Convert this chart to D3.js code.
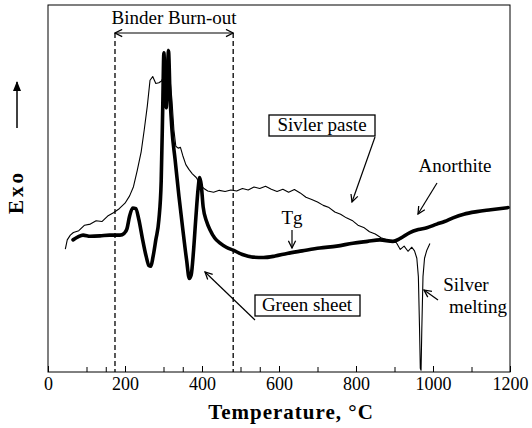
<!DOCTYPE html>
<html lang="en">
	<head>
		<meta charset="utf-8">
		<title>DTA: binder burn-out</title>
		<script type="text/javascript" src="https://cdn.jsdelivr.net/npm/d3@7"></script>
		<style type="text/css">
			body { margin: 0; background: #fff; }
			text { font-family: "Liberation Serif", "DejaVu Serif", serif; fill: #000; }
		</style>
	</head>
	<body>
		<script type="text/javascript">

			//Width and height
			var w = 532;
			var h = 428;
			var margin = {top: 5, right: 22, bottom: 56, left: 48};

			// silver paste (thin trace)
			var pasteT = [45, 50, 58, 66, 80, 95, 110, 125, 140, 155, 170, 185, 200, 212, 222, 232, 242, 250, 258, 265,
						  272, 280, 288, 295, 302, 308, 312, 316, 322, 327, 332, 338, 344, 350, 358, 366, 375, 385, 395, 405,
						  415, 430, 445, 460, 475, 490, 505, 520, 535, 550, 565, 580, 595, 610, 625, 640, 655, 670, 685, 700,
						  715, 730, 745, 760, 775, 790, 805, 820, 835, 850, 865, 880, 895, 905, 915, 925, 935, 945, 952, 958,
						  962, 965, 967, 969, 971, 974, 978, 984, 992];
			var pasteV = [33.5, 36.0, 37.3, 38.0, 38.5, 40.0, 40.3, 41.2, 41.0, 42.5, 43.4, 44.5, 46.0, 48.0, 50.5, 55.0, 60.0, 66.0, 72.5, 79.5,
						  80.5, 78.6, 78.8, 79.3, 81.0, 84.0, 88.0, 81.0, 74.0, 66.0, 61.5, 61.0, 61.2, 59.0, 56.5, 55.2, 54.0, 53.0, 51.2, 50.0,
						  49.3, 49.0, 49.5, 49.2, 49.6, 49.3, 50.0, 49.6, 50.4, 50.0, 50.6, 49.8, 49.2, 49.8, 49.0, 49.7, 48.8, 47.6, 47.0, 46.3,
						  45.4, 44.8, 43.6, 43.0, 42.0, 41.3, 40.0, 39.4, 38.2, 37.6, 36.6, 36.0, 35.6, 35.2, 33.4, 34.3, 32.9, 34.0, 33.0, 31.0,
						  26.0, 12.0, 1.0, 0.5, 12.0, 26.0, 31.0, 33.2, 35.0];

			// green sheet (thick trace)
			var sheetT = [65, 78, 91, 110, 135, 160, 187, 198, 205, 212, 220, 228, 236, 245, 255, 262, 267, 273, 280, 288,
						  294, 298, 301, 304, 307, 310, 313, 317, 322, 330, 340, 350, 360, 367, 372, 378, 384, 390, 394, 398,
						  403, 412, 421, 433, 447, 463, 481, 505, 532, 560, 590, 621, 660, 706, 750, 792, 830, 862, 896, 915,
						  940, 962, 984, 1010, 1030, 1052, 1080, 1114, 1150, 1195];
			var sheetV = [36.0, 36.8, 37.3, 37.0, 37.1, 37.3, 37.3, 37.8, 39.0, 42.5, 44.7, 44.5, 41.5, 36.5, 31.5, 29.0, 28.8, 31.5, 36.0, 41.5,
						  52.0, 72.0, 87.0, 78.0, 72.0, 80.0, 87.5, 75.0, 66.0, 58.0, 48.0, 39.0, 30.5, 25.5, 26.5, 33.0, 42.0, 50.0, 53.0, 51.0,
						  45.0, 41.0, 38.7, 36.5, 35.1, 34.0, 33.2, 32.0, 31.3, 31.2, 31.6, 32.3, 33.0, 33.8, 34.3, 35.1, 35.6, 36.0, 35.6, 36.4,
						  38.0, 38.8, 39.3, 40.3, 41.0, 42.0, 43.0, 43.7, 44.2, 44.8];

			var majorTicks = [0, 200, 400, 600, 800, 1000, 1200];
			var minorTicks = [100, 150, 300, 350, 500, 550, 700, 900, 1100];
			var burnout = [174, 481]; // dashed limits, deg C

			var pw = w - margin.left - margin.right;
			var ph = h - margin.top - margin.bottom;

			var xScale = d3.scaleLinear().domain([0, 1200]).range([0, pw]);
			var yScale = d3.scaleLinear().domain([0, 100]).range([ph, 0]);

			var svg = d3.select("body")
						.append("svg")
						.attr("width", w)
						.attr("height", h);

			// arrow heads
			var defs = svg.append("defs");
			defs.append("marker")
				.attr("id", "open")
				.attr("viewBox", "0 0 10 10")
				.attr("refX", 9).attr("refY", 5)
				.attr("markerWidth", 9).attr("markerHeight", 9)
				.attr("markerUnits", "userSpaceOnUse")
				.attr("orient", "auto-start-reverse")
				.append("path")
				.attr("d", "M1,1 L9,5 L1,9")
				.attr("fill", "none")
				.attr("stroke", "#000")
				.attr("stroke-width", 1.4);
			defs.append("marker")
				.attr("id", "solid")
				.attr("viewBox", "0 0 10 10")
				.attr("refX", 9).attr("refY", 5)
				.attr("markerWidth", 10).attr("markerHeight", 10)
				.attr("markerUnits", "userSpaceOnUse")
				.attr("orient", "auto")
				.append("path")
				.attr("d", "M0,1 L10,5 L0,9 Z")
				.attr("fill", "#000");

			var g = svg.append("g")
					   .attr("transform", "translate(" + margin.left + "," + margin.top + ")");

			// frame
			g.append("rect")
			 .attr("width", pw)
			 .attr("height", ph)
			 .attr("fill", "none")
			 .attr("stroke", "#000")
			 .attr("stroke-width", 1);

			// x axis (ticks point inward)
			var xAxis = g.append("g")
						 .attr("transform", "translate(0," + ph + ")")
						 .call(d3.axisBottom(xScale).tickValues(majorTicks).tickSize(-6).tickPadding(5).tickFormat(d3.format("d")));
			xAxis.select(".domain").remove();
			xAxis.selectAll("text")
				 .attr("font-size", "18px")
				 .attr("font-family", "Liberation Serif");
			var xMinor = g.append("g")
						  .attr("transform", "translate(0," + ph + ")")
						  .call(d3.axisBottom(xScale).tickValues(minorTicks).tickSize(-5).tickFormat(""));
			xMinor.select(".domain").remove();

			// axis titles
			svg.append("text")
			   .attr("x", margin.left + xScale(600) + 12)
			   .attr("y", 419)
			   .attr("text-anchor", "middle")
			   .attr("font-size", "21px")
			   .attr("font-weight", "bold")
			   .attr("letter-spacing", "1px")
			   .text("Temperature, \u00B0C");

			svg.append("text")
			   .attr("transform", "translate(23,192) rotate(-90)")
			   .attr("text-anchor", "middle")
			   .attr("font-size", "21px")
			   .attr("font-weight", "bold")
			   .attr("letter-spacing", "3px")
			   .text("Exo");
			svg.append("line")
			   .attr("x1", 17).attr("y1", 128)
			   .attr("x2", 17).attr("y2", 82)
			   .attr("stroke", "#000")
			   .attr("stroke-width", 1.5)
			   .attr("marker-end", "url(#solid)");

			// binder burn-out window
			g.selectAll(".limit")
			 .data(burnout)
			 .enter()
			 .append("line")
			 .attr("class", "limit")
			 .attr("x1", function(d) { return xScale(d); })
			 .attr("x2", function(d) { return xScale(d); })
			 .attr("y1", 28)
			 .attr("y2", ph)
			 .attr("stroke", "#000")
			 .attr("stroke-width", 1.3)
			 .attr("stroke-dasharray", "5,3");
			g.append("line")
			 .attr("x1", xScale(burnout[0])).attr("y1", 28)
			 .attr("x2", xScale(burnout[1])).attr("y2", 28)
			 .attr("stroke", "#000")
			 .attr("stroke-width", 1.2)
			 .attr("marker-start", "url(#open)")
			 .attr("marker-end", "url(#open)");
			g.append("text")
			 .attr("x", (xScale(burnout[0]) + xScale(burnout[1])) / 2)
			 .attr("y", 19)
			 .attr("text-anchor", "middle")
			 .attr("font-size", "19px")
			 .text("Binder Burn-out");

			// traces
			var paste = d3.zip(pasteT, pasteV);
			var sheet = d3.zip(sheetT, sheetV);

			g.append("path")
			 .datum(paste)
			 .attr("fill", "none")
			 .attr("stroke", "#000")
			 .attr("stroke-width", 1.1)
			 .attr("stroke-linejoin", "round")
			 .attr("d", d3.line()
						  .x(function(d) { return xScale(d[0]); })
						  .y(function(d) { return yScale(d[1]); }));

			g.append("path")
			 .datum(sheet)
			 .attr("fill", "none")
			 .attr("stroke", "#000")
			 .attr("stroke-width", 3.6)
			 .attr("stroke-linejoin", "round")
			 .attr("stroke-linecap", "round")
			 .attr("d", d3.line()
						  .curve(d3.curveMonotoneX)
						  .x(function(d) { return xScale(d[0]); })
						  .y(function(d) { return yScale(d[1]); }));

			// labels and pointers (page coordinates)
			function pointer(x1, y1, x2, y2) {
				svg.append("line")
				   .attr("x1", x1).attr("y1", y1)
				   .attr("x2", x2).attr("y2", y2)
				   .attr("stroke", "#000")
				   .attr("stroke-width", 1.2)
				   .attr("marker-end", "url(#open)");
			}
			function boxLabel(txt, cx, baseline, bx, by, bw, bh) {
				svg.append("rect")
				   .attr("x", bx).attr("y", by)
				   .attr("width", bw).attr("height", bh)
				   .attr("fill", "#fff")
				   .attr("stroke", "#000")
				   .attr("stroke-width", 1.3);
				svg.append("text")
				   .attr("x", cx).attr("y", baseline)
				   .attr("text-anchor", "middle")
				   .attr("font-size", "19px")
				   .text(txt);
			}
			function label(txt, cx, baseline) {
				svg.append("text")
				   .attr("x", cx).attr("y", baseline)
				   .attr("text-anchor", "middle")
				   .attr("font-size", "19px")
				   .text(txt);
			}

			pointer(375, 137, 352, 202);
			boxLabel("Sivler paste", 322, 131, 269, 115, 106, 21);

			label("Anorthite", 455, 172);
			pointer(437, 183, 418, 214);

			label("Tg", 292, 224);
			pointer(292, 230, 292, 248);

			pointer(255, 320, 205, 272);
			boxLabel("Green sheet", 307, 311, 255, 295, 105, 21);

			label("Silver", 466, 291);
			label("melting", 478, 313);
			pointer(438, 300, 424, 290);

		</script>
	</body>
</html>
